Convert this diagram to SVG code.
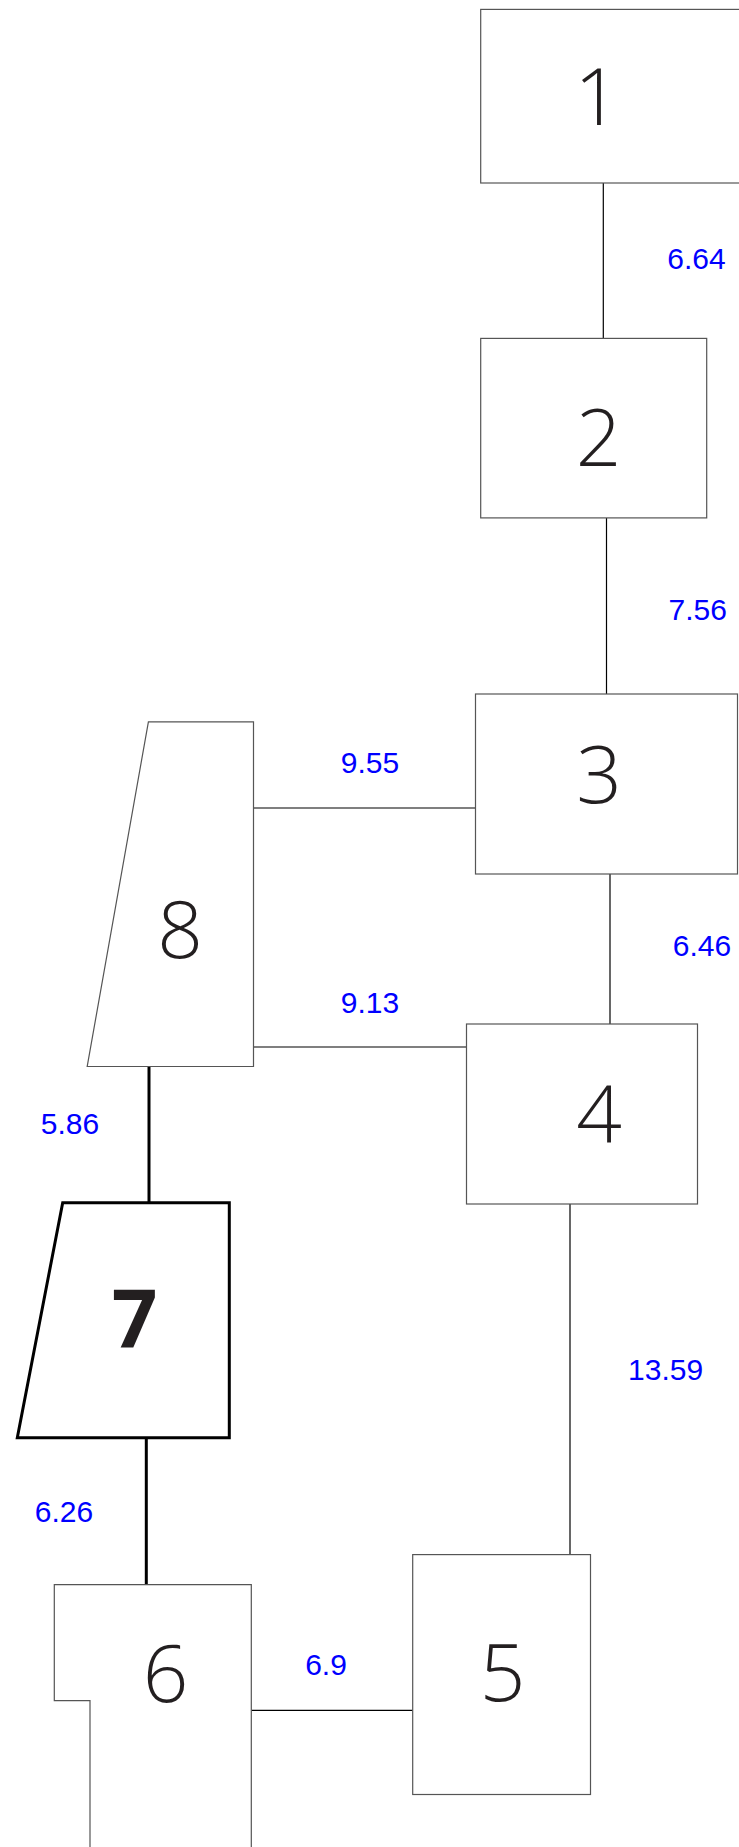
<svg xmlns="http://www.w3.org/2000/svg" width="739" height="1847" viewBox="0 0 739 1847">
<style>
.box{fill:#fff;stroke:#555;stroke-width:1.2}
.thick{fill:#fff;stroke:#000;stroke-width:3}
.ln{stroke:#000;stroke-width:1.2;fill:none}
.lnt{stroke:#000;stroke-width:3;fill:none}
.num{font-family:"Open Sans","DejaVu Sans",sans-serif;font-weight:300;font-size:80px;fill:#231f20;text-anchor:middle}
.numb{font-family:"Open Sans","DejaVu Sans",sans-serif;font-weight:700;font-size:80px;fill:#231f20;text-anchor:middle}
.lbl{font-family:"Liberation Sans",Arial,sans-serif;font-size:30px;fill:#0000ff;text-anchor:middle}
</style>
<rect width="739" height="1847" fill="#fff"/>
<g id="connectors">
<line class="ln" x1="603.3" y1="183" x2="603.3" y2="338"/>
<line class="ln" x1="606.5" y1="518" x2="606.5" y2="694"/>
<line class="ln" x1="610" y1="874" x2="610" y2="1024"/>
<line class="ln" x1="570" y1="1204" x2="570" y2="1555"/>
<line class="ln" x1="253.5" y1="808" x2="475.5" y2="808"/>
<line class="ln" x1="253.5" y1="1047" x2="466.5" y2="1047"/>
<line class="ln" x1="251.3" y1="1710.3" x2="412.7" y2="1710.3"/>
<line class="lnt" x1="149" y1="1066.5" x2="149" y2="1202.7"/>
<line class="lnt" x1="146.3" y1="1437.7" x2="146.3" y2="1584.7"/>
<text class="lbl" x="696.5" y="269">6.64</text>
<text class="lbl" x="697.7" y="619.6">7.56</text>
<text class="lbl" x="370" y="772.7">9.55</text>
<text class="lbl" x="702" y="955.6">6.46</text>
<text class="lbl" x="370" y="1013">9.13</text>
<text class="lbl" x="70" y="1134">5.86</text>
<text class="lbl" x="665.6" y="1380">13.59</text>
<text class="lbl" x="64" y="1522">6.26</text>
<text class="lbl" x="326" y="1675">6.9</text>
</g>
<g id="node1">
<rect class="box" x="480.7" y="9.4" width="270" height="173.6"/>
<text class="num" x="597" y="125">1</text>
</g>
<g id="node2">
<rect class="box" x="480.7" y="338.4" width="226" height="179.5"/>
<text class="num" x="598.5" y="466">2</text>
</g>
<g id="node3">
<rect class="box" x="475.5" y="694" width="262" height="180"/>
<text class="num" x="599" y="803">3</text>
</g>
<g id="node4">
<rect class="box" x="466.5" y="1024" width="231" height="180"/>
<text class="num" x="599" y="1142">4</text>
</g>
<g id="node5">
<rect class="box" x="412.7" y="1554.6" width="177.8" height="239.9"/>
<text class="num" x="502.5" y="1701">5</text>
</g>
<g id="node6">
<polygon class="box" points="54.3,1584.7 251.3,1584.7 251.3,1850 90,1850 90,1700.7 54.3,1700.7"/>
<text class="num" x="165.5" y="1702">6</text>
</g>
<g id="node7">
<polygon class="thick" points="62.7,1202.7 229.3,1202.7 229.3,1437.7 17.3,1437.7"/>
<text class="numb" x="134.7" y="1346.7">7</text>
</g>
<g id="node8">
<polygon class="box" points="148.4,721.8 253.5,721.8 253.5,1066.5 87.2,1066.5"/>
<text class="num" x="180" y="958">8</text>
</g>
</svg>
